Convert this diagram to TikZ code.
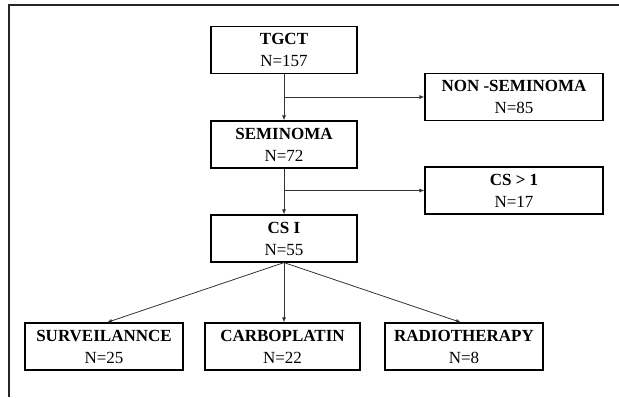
\documentclass[tikz,border=0pt]{standalone}
\usepackage{fontspec}
\setmainfont{Liberation Serif}
\usetikzlibrary{arrows.meta}
\begin{document}
\begin{tikzpicture}[x=1pt,y=-1pt,
  box/.style={draw=black,line width=1.2pt,minimum height=47pt,inner sep=0pt,align=center,
    font=\fontsize{17}{22}\selectfont},
  arr/.style={draw=black!80,line width=0.8pt,-{Latex[length=5pt,width=4pt]}},
  frame/.style={draw=black!85,line width=1.1pt}]
\useasboundingbox (0,0) rectangle (619,397);
\coordinate (ftr) at (619,5);
\coordinate (ftl) at (9,5);
\coordinate (fbl) at (9,397);
\draw[frame] (ftr) -- (ftl) -- (fbl);
\node[box,minimum width=146pt] (tgct) at (284,50) {\textbf{TGCT}\\N=157};
\node[box,minimum width=146pt] (sem) at (284,144.5) {\textbf{SEMINOMA}\\N=72};
\node[box,minimum width=146pt] (csi) at (284,238.5) {\textbf{CS I}\\N=55};
\node[box,minimum width=178pt] (nonsem) at (514,97) {\textbf{NON -SEMINOMA}\\N=85};
\node[box,minimum width=178pt] (csg) at (514,190.5) {\textbf{CS > 1}\\N=17};
\node[box,minimum width=158pt] (surv) at (104,346.5) {\textbf{SURVEILANNCE}\\N=25};
\node[box,minimum width=155pt] (carb) at (282.5,346.5) {\textbf{CARBOPLATIN}\\N=22};
\node[box,minimum width=158pt] (radio) at (464,346.5) {\textbf{RADIOTHERAPY}\\N=8};
\draw[arr] (tgct.south) -- (sem.north);
\draw[arr] (tgct.south |- nonsem.west) -- (nonsem.west);
\draw[arr] (sem.south) -- (csi.north);
\draw[arr] (sem.south |- csg.west) -- (csg.west);
\draw[arr] (csi.south) -- ([xshift=3pt]surv.north);
\draw[arr] (csi.south) -- (csi.south |- carb.north);
\draw[arr] (csi.south) -- ([xshift=-3pt]radio.north);
\end{tikzpicture}
\end{document}
